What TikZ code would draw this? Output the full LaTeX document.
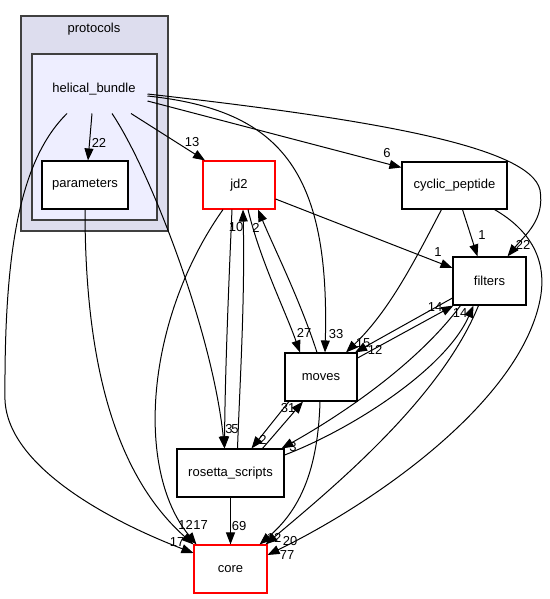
\documentclass[tikz,border=0pt]{standalone}
\usepackage{fontspec}
\setmainfont{Liberation Sans}
\usetikzlibrary{arrows.meta}

\definecolor{clusterouter}{HTML}{DDDDEE}
\definecolor{clusterinner}{HTML}{EEEEFF}
\definecolor{clusterline}{HTML}{404040}

\begin{document}
\begin{tikzpicture}[x=1pt,y=-1pt,->,>={Triangle[length=12pt,width=9pt]},
                    line width=1pt,font=\fontsize{13}{15}\selectfont]
  \tikzstyle{dir}=[draw=black,fill=white,rectangle,inner sep=0pt,minimum height=48pt,line width=1.1pt]
  \tikzstyle{main}=[dir,draw=red]
  \tikzstyle{cluster}=[draw=clusterline,rectangle,inner sep=0pt,line width=1.3pt]
  \tikzstyle{lbl}=[inner sep=0pt]

  \useasboundingbox (0,0) rectangle (549,599);

  % protocols / helical_bundle
  \node[cluster,fill=clusterouter,minimum width=147pt,minimum height=215pt] (protocols) at (94.5,123.5) {};
  \node (protocolslabel) at (94,29) {protocols};
  \node[cluster,fill=clusterinner,minimum width=125pt,minimum height=166pt,line width=1.7pt] (hbbox) at (94.5,137) {};
  \node[inner sep=0pt,minimum width=106pt,minimum height=48pt] (hb) at (94,89) {helical\_bundle};

  \node[dir,minimum width=86pt]                     (par)  at (85,185)    {parameters};
  \node[main,minimum width=72pt]                    (jd2)  at (239,185)   {jd2};
  \node[dir,minimum width=105pt,minimum height=47pt] (cyc)  at (454.5,185.5) {cyclic\_peptide};
  \node[dir,minimum width=73pt]                     (fil)  at (489.5,281) {filters};
  \node[dir,minimum width=72pt]                     (mov)  at (321,377)   {moves};
  \node[dir,minimum width=107pt]                    (ros)  at (230.5,473) {rosetta\_scripts};
  \node[main,minimum width=73pt]                    (core) at (230.5,569) {core};

  % from helical_bundle
  \draw ([xshift=-2]hb.south) -- ([xshift=3]par.north) node[lbl] at (99,143) {22};
  \draw ([xshift=37]hb.south) -- ([xshift=-34]jd2.north) node[lbl] at (192,142) {13};
  \draw ([yshift=-12]hb.east) -- ([yshift=18]cyc.west) node[lbl] at (387,153) {6};
  \draw ([yshift=-5]hb.east) .. controls (360,118) and (530,145) .. (540,190)
        .. controls (545,220) and (525,235) .. ([xshift=18]fil.north) node[lbl] at (523,245) {22};
  \draw ([yshift=-7]hb.east) .. controls (280,110) and (330,170) .. ([xshift=4]mov.north) node[lbl] at (336,334) {33};
  \draw ([xshift=18]hb.south) .. controls (150,170) and (212,330) .. ([xshift=-6]ros.north) node[lbl] at (235,429) {5};
  \draw ([xshift=-27]hb.south) .. controls (20,160) and (4,250) .. (5,400)
        .. controls (8,470) and (120,525) .. ([yshift=16]core.west) node[lbl] at (177,542) {17};

  % from parameters
  \draw (par.south) .. controls (85,350) and (110,470) .. (core.north west) node[lbl] at (185.5,525) {12};

  % from jd2
  \draw ([yshift=-14]jd2.east) -- ([yshift=13]fil.west) node[lbl] at (438,252) {1};
  \draw ([xshift=9]jd2.south) .. controls (260,260) and (285,310) .. ([xshift=-21]mov.north) node[lbl] at (304,333) {27};
  \draw ([xshift=-7]jd2.south) .. controls (228,300) and (225,380) .. ([xshift=-6]ros.north) node[lbl] at (229,429) {3};
  \draw ([xshift=-16]jd2.south) .. controls (145,320) and (135,470) .. ([xshift=3]core.north west) node[lbl] at (200.5,525) {17};

  % from cyclic_peptide
  \draw ([xshift=8]cyc.south) -- ([xshift=-12]fil.north) node[lbl] at (482,235) {1};
  \draw ([xshift=-13]cyc.south) .. controls (415,260) and (390,310) .. ([xshift=25]mov.north) node[lbl] at (363,343) {15};
  \draw ([xshift=40]cyc.south) .. controls (530,230) and (548,260) .. (540,300)
        .. controls (520,400) and (380,500) .. ([yshift=14]core.east) node[lbl] at (287,555) {77};

  % from filters
  \draw ([yshift=-17]fil.west) -- ([xshift=34]mov.north) node[lbl] at (375,350) {12};
  \draw ([xshift=-29]fil.south) .. controls (420,360) and (350,410) .. ([xshift=51]ros.north) node[lbl] at (293,447) {3};
  \draw ([xshift=-11]fil.south) .. controls (440,400) and (330,490) .. ([xshift=-2]core.north east) node[lbl] at (290,541) {20};

  % from moves
  \draw ([xshift=-4]mov.north) .. controls (300,300) and (275,250) .. ([xshift=19]jd2.south) node[lbl] at (256,228) {2};
  \draw ([yshift=19]mov.east) -- ([xshift=1]fil.south west) node[lbl] at (435,307) {14};
  \draw ([xshift=-32]mov.south) -- ([xshift=21]ros.north) node[lbl] at (263,440) {2};
  \draw ([xshift=-1]mov.south) .. controls (318,470) and (300,510) .. ([xshift=-8]core.north east) node[lbl] at (274,538) {12};

  % from rosetta_scripts
  \draw ([xshift=7]ros.north) .. controls (240,380) and (245,300) .. ([xshift=4]jd2.south) node[lbl] at (236,227) {10};
  \draw ([yshift=18]ros.east) .. controls (350,430) and (445,370) .. ([xshift=-16]fil.south) node[lbl] at (460,313) {14};
  \draw ([xshift=32]ros.north) -- ([xshift=-18]mov.south) node[lbl] at (288,408) {31};
  \draw (ros.south) -- (core.north) node[lbl] at (239,526) {69};
\end{tikzpicture}
\end{document}
